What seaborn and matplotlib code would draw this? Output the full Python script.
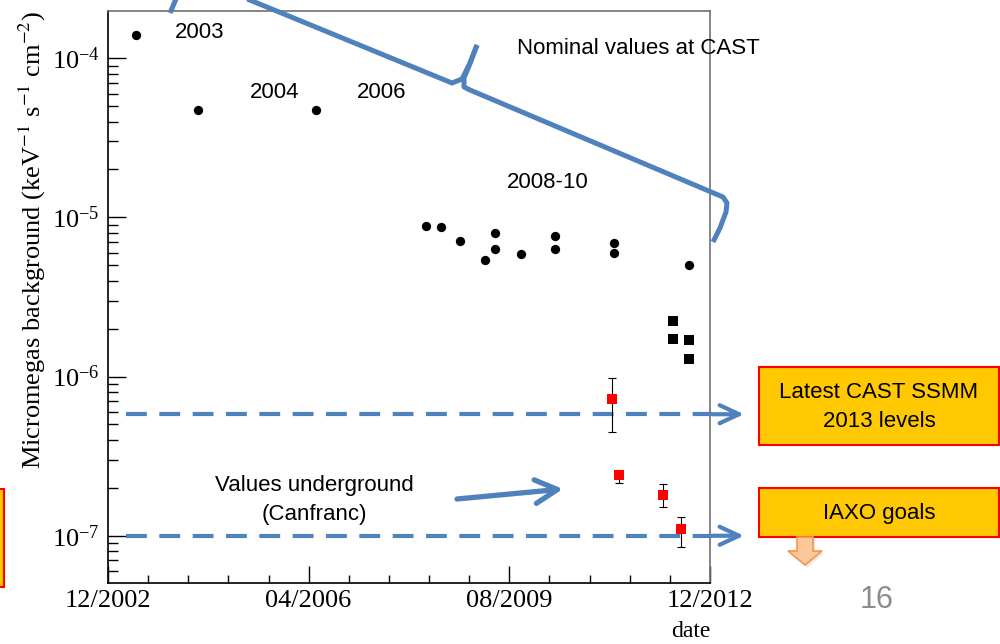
import numpy as np
import pandas as pd
import matplotlib
matplotlib.use("Agg")
import matplotlib.pyplot as plt
import matplotlib.ticker as mticker
from matplotlib.lines import Line2D
from matplotlib.patches import Rectangle, Polygon, FancyArrowPatch
import seaborn as sns

# ---------------- data ----------------
nominal_dates = ["2003-05-22", "2004-05-28", "2006-05-19", "2008-03-16", "2008-06-10",
                 "2008-10-07", "2009-03-07", "2009-05-07", "2009-05-07", "2009-10-10",
                 "2010-05-04", "2010-05-04", "2011-05-01", "2011-05-01", "2012-07-25"]
nominal_values = [1.40e-4, 4.73e-5, 4.73e-5, 8.87e-6, 8.75e-6,
                  7.11e-6, 5.39e-6, 8.01e-6, 6.31e-6, 5.89e-6,
                  7.64e-6, 6.31e-6, 6.87e-6, 6.00e-6, 5.00e-6]

ssmm_dates = ["2012-04-22", "2012-04-22", "2012-07-25", "2012-07-25"]
ssmm_values = [2.25e-6, 1.73e-6, 1.70e-6, 1.29e-6]

underground_dates = ["2011-04-16", "2011-05-28", "2012-02-21", "2012-06-07"]
underground_values = [7.23e-7, 2.40e-7, 1.80e-7, 1.10e-7]
underground_low = [4.5e-7, 2.15e-7, 1.51e-7, 8.5e-8]
underground_high = [9.8e-7, 2.58e-7, 2.10e-7, 1.31e-7]

reference_levels = [5.8e-7, 1.0e-7]
level_labels = ["Latest CAST SSMM\n2013 levels", "IAXO goals"]
period_labels = ["2003", "2004", "2006", "2008-10"]
x_tick_dates = ["2002-12-01", "2006-04-01", "2009-08-01", "2012-12-01"]
x_tick_labels = ["12/2002", "04/2006", "08/2009", "12/2012"]
y_label = "Micromegas background (keV$^{-1}$ s$^{-1}$ cm$^{-2}$)"
x_label = "date"

# ---------------- style ----------------
sns.set_style("ticks")
plt.rcParams["font.family"] = ["Liberation Serif", "DejaVu Serif"]
plt.rcParams["mathtext.fontset"] = "stix"
plt.rcParams["axes.unicode_minus"] = False
for key in ["text.color", "axes.labelcolor", "xtick.color", "ytick.color"]:
    plt.rcParams[key] = "black"

BLUE = "#4F81BD"
GOLD = "#FFC800"
SANS = ["Liberation Sans", "DejaVu Sans"]

W, H = 1000, 644
def fx(x):
    return x / W
def fy(y):
    return 1 - y / H

fig = plt.figure(figsize=(10, 6.44), dpi=100)
fig.patch.set_facecolor("white")
ax_l, ax_r, ax_t, ax_b = 108, 710, 11, 582.7
ax = fig.add_axes([fx(ax_l), fy(ax_b), (ax_r - ax_l) / W, (ax_b - ax_t) / H])

def axx(x):  # pixel x -> axes fraction
    return (x - ax_l) / (ax_r - ax_l)

nom = pd.DataFrame({"date": pd.to_datetime(nominal_dates), "value": nominal_values})
ssm = pd.DataFrame({"date": pd.to_datetime(ssmm_dates), "value": ssmm_values})
und = pd.DataFrame({"date": pd.to_datetime(underground_dates), "value": underground_values,
                    "low": underground_low, "high": underground_high})

sns.scatterplot(data=nom, x="date", y="value", marker="o", s=45, color="black",
                edgecolor="black", linewidth=0, ax=ax, legend=False, zorder=5)
sns.scatterplot(data=ssm, x="date", y="value", marker="s", s=62, color="black",
                edgecolor="black", linewidth=0, ax=ax, legend=False, zorder=5)
ax.errorbar(und["date"], und["value"],
            yerr=[und["value"] - und["low"], und["high"] - und["value"]],
            fmt="none", ecolor="black", elinewidth=0.8, capsize=3, capthick=0.8, zorder=4)
sns.scatterplot(data=und, x="date", y="value", marker="s", s=52, color="#FF0000",
                edgecolor="#FF0000", linewidth=0, ax=ax, legend=False, zorder=6)

ax.set_yscale("log")
ax.set_ylim(5.07e-8, 1.98e-4)
ax.set_xlim(pd.Timestamp("2002-12-01"), pd.Timestamp("2012-12-01"))

ax.set_xticks(pd.to_datetime(x_tick_dates))
ax.set_xticklabels(x_tick_labels)
ax.set_xticks(pd.date_range("2002-12-01", "2012-12-01", freq="8MS"), minor=True)
ax.xaxis.set_minor_formatter(mticker.NullFormatter())
ax.yaxis.set_major_locator(mticker.LogLocator(base=10, numticks=20))
ax.yaxis.set_minor_locator(mticker.LogLocator(base=10, subs=np.arange(2, 10), numticks=20))
ax.yaxis.set_minor_formatter(mticker.NullFormatter())

ax.tick_params(axis="y", which="major", direction="in", length=13, width=1.0,
               labelsize=19, pad=6, left=True, right=False)
ax.tick_params(axis="y", which="minor", direction="in", length=7, width=1.0,
               left=True, right=False)
ax.tick_params(axis="x", which="major", direction="in", length=12, width=1.0,
               labelsize=19, pad=5, bottom=True, top=False)
ax.tick_params(axis="x", which="minor", direction="in", length=6, width=1.0,
               bottom=True, top=False)

for side in ["left", "bottom"]:
    ax.spines[side].set_color("black")
    ax.spines[side].set_linewidth(1.2)
for side in ["top", "right"]:
    ax.spines[side].set_color("#707070")
    ax.spines[side].set_linewidth(1.2)

ax.set_ylabel(y_label, fontsize=19, loc="top")
ax.yaxis.set_label_coords(axx(48), 1.0)
ax.set_xlabel(x_label, fontsize=17, loc="right", labelpad=0)
ax.xaxis.set_label_coords(axx(710), (ax_b - 642) / (ax_b - ax_t))
ax.xaxis.label.set_va("bottom")

# ---------------- annotations ----------------
# reference level dashed lines with arrows
for lvl in reference_levels:
    ax.plot([axx(126), axx(712)], [lvl, lvl], transform=ax.get_yaxis_transform(),
            color=BLUE, lw=3, ls=(0, (5, 3)), clip_on=False, zorder=3,
            solid_capstyle="butt", dash_capstyle="butt")
    ax.annotate("", xy=(axx(744), lvl), xytext=(axx(712), lvl),
                xycoords=("axes fraction", "data"), textcoords=("axes fraction", "data"),
                arrowprops=dict(arrowstyle="->,head_length=14,head_width=6.5",
                                mutation_scale=1, lw=3, color=BLUE,
                                shrinkA=0, shrinkB=0),
                annotation_clip=False)

# boxes on the right
boxes = [(367, 445), (488, 537)]
for (top, bot), lab in zip(boxes, level_labels):
    fig.add_artist(Rectangle((fx(759), fy(bot)), (999 - 759) / W, (bot - top) / H,
                             transform=fig.transFigure, facecolor=GOLD,
                             edgecolor="#FF0000", lw=1.5, zorder=2))
    fig.text(fx(879), fy((top + bot) / 2 + 1), lab, ha="center", va="center",
             fontsize=16, family=SANS, linespacing=1.5, zorder=3)

# partial box at the left edge
fig.add_artist(Rectangle((fx(-30), fy(587)), 34 / W, (587 - 489) / H,
                         transform=fig.transFigure, facecolor=GOLD,
                         edgecolor="#FF0000", lw=1.5, zorder=2))

# block arrow under IAXO box
arrow_pts = [(797, 537), (813, 537), (813, 551), (822, 551), (805, 565), (788, 551), (797, 551)]
fig.add_artist(Polygon([(fx(x) + 0.002, fy(y) - 0.004) for x, y in arrow_pts],
                       closed=True, transform=fig.transFigure, facecolor="#d9d9d9",
                       edgecolor="none", alpha=0.6, zorder=2))
fig.add_artist(Polygon([(fx(x), fy(y)) for x, y in arrow_pts], closed=True,
                       transform=fig.transFigure, facecolor="#FBC89B",
                       edgecolor="#F79646", lw=1.2, zorder=3))

# period labels
period_pos = [(175, 33), (250, 92), (357, 92), (507, 183)]
for lab, (x, y) in zip(period_labels, period_pos):
    fig.text(fx(x), fy(y), lab, ha="left", va="center", fontsize=16, family=SANS)

fig.text(fx(517), fy(48), "Nominal values at CAST", ha="left", va="center",
         fontsize=16, family=SANS)
fig.text(fx(314), fy(500), "Values underground\n(Canfranc)", ha="center", va="center",
         fontsize=16, family=SANS, linespacing=1.5)
fig.text(fx(877), fy(600), "16", ha="center", va="center", fontsize=22,
         family=SANS, color="#8c8c8c")

# underground arrow
fig.add_artist(FancyArrowPatch(
    (fx(457), fy(499)), (fx(563), fy(489)), transform=fig.transFigure,
    arrowstyle="->,head_length=16,head_width=8.5", mutation_scale=1,
    lw=3.8, color=BLUE, shrinkA=0, shrinkB=0, zorder=4))

# brace
brace_parts = [
    [(170, 13), (179, -8)],
    [(240, -4), (452, 83), (462, 79), (470, 63), (477, 45)],
    [(477, 45), (469, 66), (464, 78), (464, 87), (470, 90), (723, 197),
     (727, 203), (726, 212), (720, 228), (713, 242)],
]
for part in brace_parts:
    xs = [fx(p[0]) for p in part]
    ys = [fy(p[1]) for p in part]
    fig.add_artist(Line2D(xs, ys, transform=fig.transFigure, color=BLUE, lw=3.6,
                          solid_capstyle="butt", solid_joinstyle="round",
                          clip_on=False, zorder=6))

fig.savefig("out.png", dpi=100, facecolor="white")
